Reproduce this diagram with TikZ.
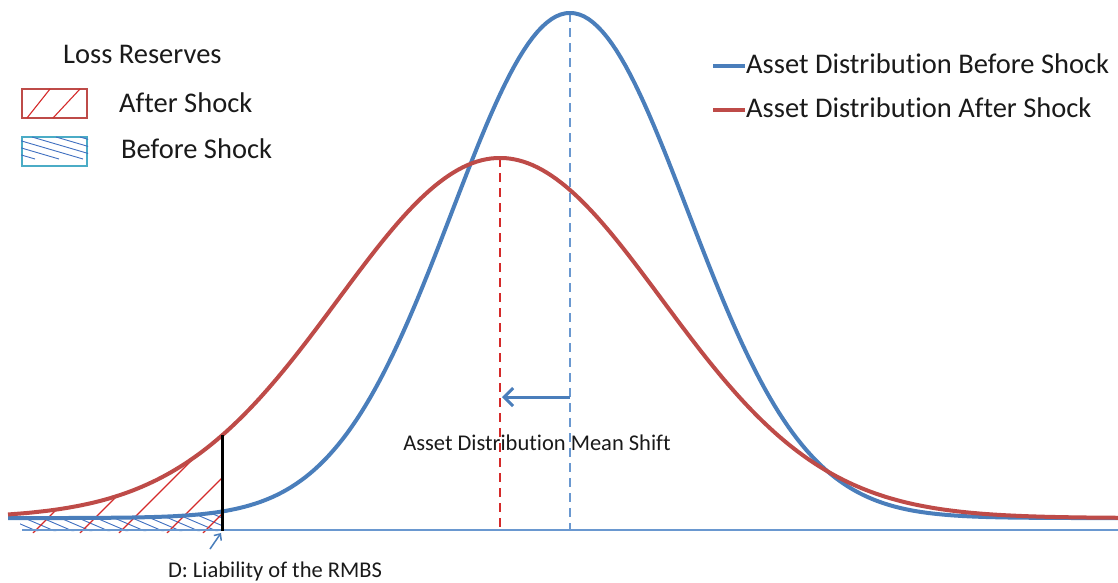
\documentclass[tikz,border=0pt]{standalone}
\usepackage{fontspec}
\setmainfont{Carlito}[Ligatures=NoCommon]
\usetikzlibrary{arrows.meta}
\definecolor{cblue}{HTML}{4A7EBB}
\definecolor{cred}{HTML}{BE4B48}
\definecolor{ccyan}{HTML}{4BACC6}
\definecolor{cdblue}{HTML}{6A98D0}
\definecolor{chred}{HTML}{D42A2A}
\definecolor{ctext}{HTML}{1A1A1A}
\definecolor{chblue}{HTML}{3F6FC0}
\begin{document}
\begin{tikzpicture}[x=1pt,y=-1pt,
  declare function={fb(\t)=518-505*exp(-0.5*((\t-570)/118)^2);
                    fr(\t)=518-360*exp(-0.5*((\t-500)/162)^2);},
  curve/.style={line width=4pt,line join=round},
  meanline/.style={line width=2pt,dash pattern=on 9pt off 6pt},
  bigtxt/.style={font=\fontsize{28.5}{32}\selectfont,text=ctext,inner sep=0pt},
  smalltxt/.style={font=\fontsize{22.5}{26}\selectfont,text=ctext,inner sep=0pt},
  legbox/.style={line width=2pt,minimum width=65pt,minimum height=29pt,inner sep=0pt},
  hatchred/.style={chred,line width=1.1pt},
  hatchblue/.style={chblue,line width=0.9pt}]
\useasboundingbox (0,0) rectangle (1118,582);

% ---- hatch: before shock (blue) ----
\begin{scope}
  \clip plot[domain=20:222,samples=40] (\x,{fb(\x)}) -- (222,531) -- (20,531) -- cycle;
  \foreach \b in {-60,-42,...,240} \draw[hatchblue] (\b,505) -- ++(70,30);
\end{scope}
% ---- hatch: after shock (red) ----
\begin{scope}
  \clip plot[domain=8:222,samples=60] (\x,{fr(\x)}) -- (222,533) -- (8,533) -- cycle;
  \foreach \b in {33,80,119,167,203} \draw[hatchred] (\b,533) -- ++(100,-100);
\end{scope}

% ---- axis ----
\coordinate (axL) at (22,530);
\coordinate (axR) at (1118,530);
\draw[cdblue,line width=1.5pt] (axL) -- (axR);

% ---- mean lines ----
\coordinate (mbTop) at (570,13);
\coordinate (mbBot) at (570,530);
\coordinate (mrTop) at (500,158);
\coordinate (mrBot) at (500,530);
\draw[meanline,cdblue] (mbTop) -- (mbBot);
\draw[meanline,chred] (mrTop) -- (mrBot);

% ---- curves ----
\draw[curve,cblue] plot[domain=8:1118,samples=240] (\x,{fb(\x)});
\draw[curve,cred] plot[domain=8:1118,samples=240] (\x,{fr(\x)});

% ---- liability D ----
\coordinate (dTop) at (222,{fr(222)});
\coordinate (dBot) at (222,531);
\draw[line width=3pt,black] (dTop) -- (dBot);

% ---- mean shift arrow ----
\coordinate (shFrom) at (570,397);
\coordinate (shTo) at (502,397);
\draw[cblue,line width=3pt,-{Straight Barb[length=9pt,width=18pt,line width=3pt]}] (shFrom) -- (shTo);
\node[smalltxt,anchor=base] (shiftlab) at (537,450) {Asset Distribution Mean Shift};

% ---- D label ----
\node[smalltxt,anchor=base] (dlab) at (275,577) {D: Liability of the RMBS};
\coordinate (dArrFrom) at (210,549);
\coordinate (dArrTo) at (221,533);
\draw[cblue,line width=1.5pt,-{Straight Barb[length=5pt,width=9pt,line width=1.5pt]}] (dArrFrom) -- (dArrTo);

% ---- right legend ----
\coordinate (lb1) at (713,66);
\coordinate (lb2) at (745,66);
\coordinate (lr1) at (713,110);
\coordinate (lr2) at (745,110);
\draw[cblue,line width=3.5pt] (lb1) -- (lb2);
\draw[cred,line width=3.5pt] (lr1) -- (lr2);
\node[bigtxt,anchor=base west] (legB) at (746,73) {Asset Distribution Before Shock};
\node[bigtxt,anchor=base west] (legA) at (746,117) {Asset Distribution After Shock};

% ---- left legend ----
\node[bigtxt,anchor=base west] (lossT) at (63,63) {Loss Reserves};
\node[legbox,draw=cred] (boxA) at (54.5,103.5) {};
\begin{scope}
  \clip (boxA.south west) rectangle (boxA.north east);
  \draw[hatchred] (27,118) -- (50,89);
  \draw[hatchred] (53,118) -- (80,89);
\end{scope}
\node[legbox,draw=ccyan] (boxB) at (54.5,151.5) {};
\begin{scope}
  \clip (boxB.south west) rectangle (boxB.north east);
  \foreach \b in {-40,-16,...,80} \draw[hatchblue] (\b,137) -- ++(75,22);
\end{scope}
\node[bigtxt,anchor=base west] (txtA) at (119,112) {After Shock};
\node[bigtxt,anchor=base west] (txtB) at (121,158) {Before Shock};
\end{tikzpicture}
\end{document}
